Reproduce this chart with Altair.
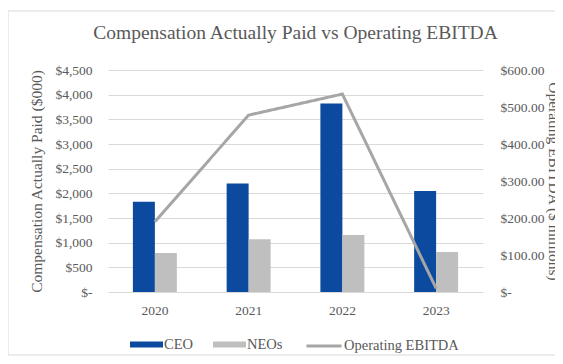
import altair as alt
import pandas as pd

# ---- data ----
years = ["2020", "2021", "2022", "2023"]
ceo = [1830, 2200, 3820, 2045]          # $000
neos = [790, 1070, 1155, 810]           # $000
ebitda = [190, 478, 535, 10]            # $ millions

bar_series = ["CEO", "NEOs"]
bar_colors = ["#0B4A9E", "#BFBFBF"]
line_name = "Operating EBITDA"
line_color = "#A6A6A6"

left_ticks = list(range(0, 4501, 500))
right_ticks = list(range(0, 601, 100))

bars_df = pd.DataFrame({
    "year": years * 2,
    "series": ["CEO"] * len(years) + ["NEOs"] * len(years),
    "value": ceo + neos,
})
line_df = pd.DataFrame({
    "year": years,
    "metric": [line_name] * len(years),
    "ebitda": ebitda,
})

FONT = "Liberation Serif"
TXT = "#595959"
GRID = "#D9D9D9"

common_legend = dict(
    title=None,
    orient="none",
    direction="horizontal",
    labelFont=FONT,
    labelFontSize=14.5,
    labelColor=TXT,
    labelOffset=1,
    columnPadding=20,
)

x_enc = alt.X(
    "year:N",
    title=None,
    sort=years,
    scale=alt.Scale(paddingInner=0.531, paddingOuter=0.2655),
    axis=alt.Axis(labelAngle=0, ticks=False, domain=False, labelPadding=11,
                  labelFont=FONT, labelFontSize=13.5, labelColor=TXT),
)

bars = alt.Chart(bars_df).mark_bar().encode(
    x=x_enc,
    xOffset=alt.XOffset("series:N", sort=bar_series, scale=alt.Scale(paddingInner=0, paddingOuter=0)),
    y=alt.Y(
        "value:Q",
        scale=alt.Scale(domain=[0, 4500], nice=False),
        axis=alt.Axis(
            orient="left", values=left_ticks, grid=True, gridColor=GRID, gridWidth=1,
            domain=False, ticks=False, labelPadding=16,
            labelExpr="datum.value === 0 ? '$-' : format(datum.value, '$,')",
            labelFont=FONT, labelFontSize=13.5, labelColor=TXT,
            title="Compensation Actually Paid ($000)", titleFont=FONT, titleFontSize=15.5,
            titleFontWeight="normal", titleColor=TXT, titlePadding=10,
        ),
    ),
    color=alt.Color(
        "series:N",
        scale=alt.Scale(domain=bar_series, range=bar_colors),
        legend=alt.Legend(
            legendX=22,
            legendY=258,
            symbolType="M-1,-0.18H1V0.18H-1Z",
            symbolSize=1089,
            symbolStrokeWidth=0,
            **common_legend,
        ),
    ),
)

line = alt.Chart(line_df).mark_line(strokeWidth=3, strokeCap="butt", color=line_color).encode(
    x=alt.X("year:N", sort=years),
    y=alt.Y(
        "ebitda:Q",
        scale=alt.Scale(domain=[0, 600], nice=False),
        axis=alt.Axis(
            orient="right", values=right_ticks, grid=False,
            domain=False, ticks=False, labelPadding=17,
            labelExpr="datum.value === 0 ? '$-' : format(datum.value, '$,.2f')",
            labelFont=FONT, labelFontSize=13.5, labelColor=TXT,
            title="Operating EBITDA ($ millions)", titleFont=FONT, titleFontSize=15.5,
            titleFontWeight="normal", titleColor=TXT, titlePadding=2,
        ),
    ),
    strokeDash=alt.StrokeDash(
        "metric:N",
        scale=alt.Scale(domain=[line_name], range=[[1, 0]]),
        legend=alt.Legend(
            legendX=197,
            legendY=257,
            symbolType="stroke",
            symbolSize=1225,
            symbolStrokeColor=line_color,
            symbolStrokeWidth=3,
            **common_legend,
        ),
    ),
)

border = alt.Chart(alt.Data(values=[{}])).mark_rect(
    fill="transparent", stroke=GRID, strokeWidth=1
).encode(
    x=alt.value(-100), x2=alt.value(470), y=alt.value(-59), y2=alt.value(285)
)

chart = alt.layer(border, bars, line).resolve_scale(
    y="independent"
).properties(
    width=375,
    height=222,
    autosize=alt.AutoSizeParams(type="none"),
    padding={"left": 100, "top": 62, "right": 72, "bottom": 64},
    title=alt.TitleParams(
        "Compensation Actually Paid vs Operating EBITDA",
        font=FONT, fontSize=19.5, fontWeight="normal", color=TXT,
        anchor="middle", frame="group", offset=-33,
    ),
    background="white",
).configure_view(stroke=None)

chart.save("out.html", embed_options={"renderer": "svg", "actions": False})
